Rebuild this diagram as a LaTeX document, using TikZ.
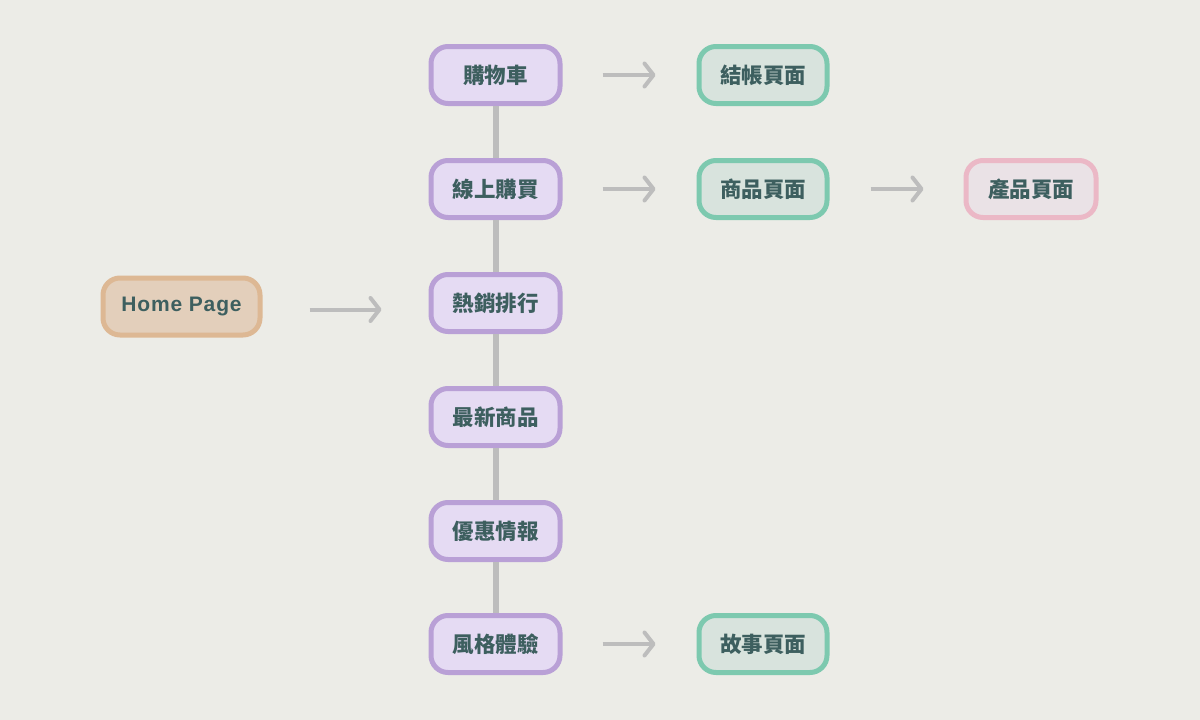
\documentclass[tikz,border=0pt]{standalone}
\usepackage{fontspec}
\setmainfont{Noto Sans CJK TC}
\newfontfamily\latinf[LetterSpace=4]{Liberation Sans}
\usetikzlibrary{arrows.meta}
\definecolor{bg}{HTML}{ECECE7}
\definecolor{txt}{HTML}{3D5F5F}
\definecolor{pb}{HTML}{B9A0D6}
\definecolor{pf}{HTML}{E5DBF3}
\definecolor{gb}{HTML}{7DC9AF}
\definecolor{gf}{HTML}{D8E3DD}
\definecolor{kb}{HTML}{EBB8C6}
\definecolor{kf}{HTML}{EAE2E6}
\definecolor{hb}{HTML}{DDB894}
\definecolor{hf}{HTML}{E3CFBB}
\definecolor{ln}{HTML}{BDBDBD}
\tikzset{
  box/.style={rounded corners=17pt, line width=5pt, minimum height=57pt, inner sep=0pt,
    font=\fontsize{21.5}{24}\selectfont\bfseries, text=txt},
  pbox/.style={box, draw=pb, fill=pf, minimum width=129pt},
  gbox/.style={box, draw=gb, fill=gf, minimum width=128pt},
  kbox/.style={box, draw=kb, fill=kf, minimum width=130pt},
  hbox/.style={box, draw=hb, fill=hf, minimum width=157pt, font=\latinf\bfseries\fontsize{21}{24}\selectfont},
  arr/.style={draw=ln, line width=4pt, -{Straight Barb[length=9pt,width=23pt,line width=4pt,round]}},
  vline/.style={draw=ln, line width=6pt}
}
\begin{document}
\begin{tikzpicture}[x=1pt,y=-1pt]
\useasboundingbox[fill=bg] (0,0) rectangle (1200,720);
\node[hbox] (home) at (181.5,306.5) {Home Page};
\node[pbox] (p1) at (495.5,75) {購物車};
\node[pbox] (p2) at (495.5,189) {線上購買};
\node[pbox] (p3) at (495.5,303) {熱銷排行};
\node[pbox] (p4) at (495.5,417) {最新商品};
\node[pbox] (p5) at (495.5,531) {優惠情報};
\node[pbox] (p6) at (495.5,644) {風格體驗};
\node[gbox] (g1) at (763,75) {結帳頁面};
\node[gbox] (g2) at (763,189) {商品頁面};
\node[gbox] (g3) at (763,644) {故事頁面};
\node[kbox] (k1) at (1031,189) {產品頁面};
\foreach \a/\b in {p1/p2,p2/p3,p3/p4,p4/p5,p5/p6}
  \draw[vline] (\a.south) -- (\b.north);
\draw[arr, shorten <=47pt, shorten >=47pt] (home.east) ++(0,3) coordinate (hs) -- (hs -| p3.west);
\draw[arr, shorten <=40pt, shorten >=41pt] (p1.east) -- (g1.west);
\draw[arr, shorten <=40pt, shorten >=41pt] (p2.east) -- (g2.west);
\draw[arr, shorten <=40pt, shorten >=41pt] (p6.east) -- (g3.west);
\draw[arr, shorten <=41pt, shorten >=40pt] (g2.east) -- (k1.west);
\end{tikzpicture}
\end{document}
